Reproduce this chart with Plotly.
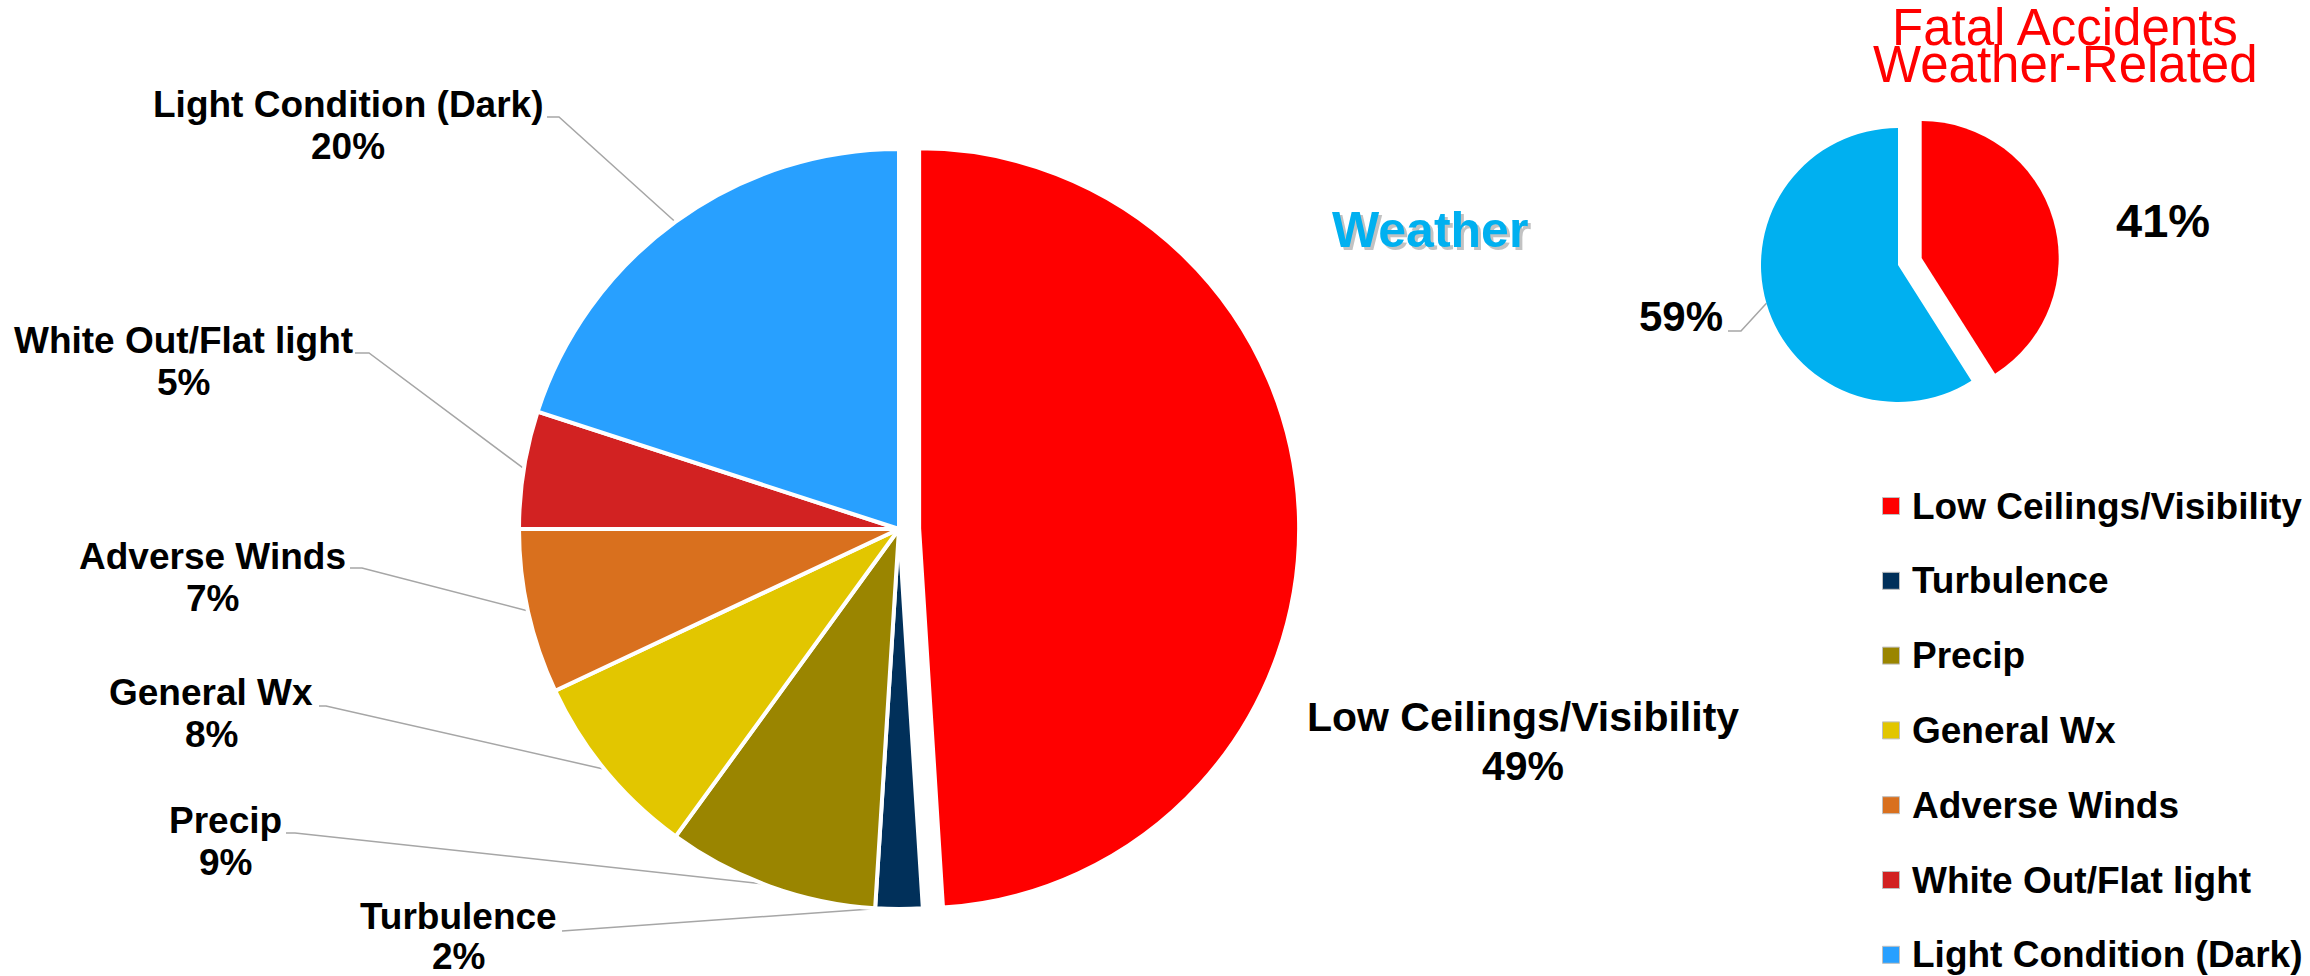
import math
import plotly.graph_objects as go

# ---------------- data ----------------
categories = ["Low Ceilings/Visibility", "Turbulence", "Precip", "General Wx",
              "Adverse Winds", "White Out/Flat light", "Light Condition (Dark)"]
shares = [49, 2, 9, 8, 7, 5, 20]

fatal_categories = ["Weather-Related", "Not Weather-Related"]
fatal_shares = [41, 59]

# ---------------- styles / layout ----------------
colors = ["#FF0000", "#01305A", "#9A8500", "#E2C600", "#D9701E", "#D22222", "#28A0FF"]
pulls = [0.053, 0, 0, 0, 0, 0, 0]
fatal_colors = ["#FF0000", "#00B0F0"]
fatal_pulls = [0.18, 0]

W, H = 2310, 976
MAIN_CX, MAIN_CY, MAIN_R = 899, 529, 380
SMALL_CX, SMALL_CY, SMALL_R = 1898, 265, 137
FONT = "Liberation Sans, Arial, sans-serif"
LEADER = "#A6A6A6"


def domain(cx, cy, r, maxpull):
    half = r * (1 + maxpull)
    return dict(x=[(cx - half) / W, (cx + half) / W],
                y=[(H - cy - half) / H, (H - cy + half) / H])


fig = go.Figure()

fig.add_trace(go.Pie(
    labels=categories, values=shares, sort=False, direction="clockwise", rotation=0,
    pull=pulls, marker=dict(colors=colors, line=dict(color="white", width=4)),
    textinfo="none", hoverinfo="label+percent", showlegend=False,
    domain=domain(MAIN_CX, MAIN_CY, MAIN_R, max(pulls)),
))

fig.add_trace(go.Pie(
    labels=fatal_categories, values=fatal_shares, sort=False, direction="clockwise", rotation=0,
    pull=fatal_pulls, marker=dict(colors=fatal_colors, line=dict(width=0)),
    textinfo="none", hoverinfo="label+percent", showlegend=False,
    domain=domain(SMALL_CX, SMALL_CY, SMALL_R, max(fatal_pulls)),
))


def mid_edge(values, idx, cx, cy, r):
    tot = sum(values)
    start = sum(values[:idx]) / tot
    mid = (start + values[idx] / tot / 2) * 2 * math.pi
    return cx + r * math.sin(mid), cy - r * math.cos(mid)


# label placement (layout positions) for main pie: center x, cap-middle y of name line
label_x = [1523, 458, 225, 211, 212, 183, 348]
label_y = [717, 916, 820, 692, 556, 340, 104]
label_size = [41, 37, 37, 37, 37, 37, 37]
line_gap = [49, 40, 42, 42, 42, 42, 42]
# leader line stubs (text side): x0, x1, y ; None = no leader
stub_x0 = [None, 562, 286, 319, 350, 355, 547]
stub_x1 = [None, 562, 295, 326, 362, 369, 559]
stub_y = [None, 931, 833, 706, 568, 353, 117]

annotations = []
lx, ly = [], []
for i, name in enumerate(categories):
    f = dict(family=FONT, size=label_size[i], color="black", weight=700)
    annotations.append(dict(x=label_x[i], y=label_y[i], text=name, showarrow=False,
                            xref="x", yref="y", xanchor="center", yanchor="middle", font=f))
    annotations.append(dict(x=label_x[i], y=label_y[i] + line_gap[i], text=f"{shares[i]}%",
                            showarrow=False, xref="x", yref="y", xanchor="center",
                            yanchor="middle", font=f))
    if stub_x0[i] is not None:
        ex, ey = mid_edge(shares, i, MAIN_CX, MAIN_CY, MAIN_R - 2)
        lx += [stub_x0[i], stub_x1[i], ex, None]
        ly += [stub_y[i], stub_y[i], ey, None]

# small pie labels
annotations.append(dict(x=2163, y=220, text=f"{fatal_shares[0]}%", showarrow=False,
                        xref="x", yref="y", xanchor="center", yanchor="middle",
                        font=dict(family=FONT, size=47, color="black", weight=700)))
annotations.append(dict(x=1681, y=316, text=f"{fatal_shares[1]}%", showarrow=False,
                        xref="x", yref="y", xanchor="center", yanchor="middle",
                        font=dict(family=FONT, size=42, color="black", weight=700)))
ex, ey = mid_edge(fatal_shares, 1, SMALL_CX, SMALL_CY, SMALL_R)
lx += [1728, 1741, ex, None]
ly += [331, 331, ey, None]

fig.add_trace(go.Scatter(x=lx, y=ly, mode="lines", line=dict(color=LEADER, width=1.5),
                         hoverinfo="skip", showlegend=False))

# titles
for txt, yy in [("Fatal Accidents", 27), ("Weather-Related", 64)]:
    annotations.append(dict(x=2065, y=yy, text=txt, showarrow=False, xref="x", yref="y",
                            xanchor="center", yanchor="middle",
                            font=dict(family=FONT, size=51, color="#FF0000")))
annotations.append(dict(x=1433, y=233, text="Weather", showarrow=False, xref="x", yref="y",
                        xanchor="center", yanchor="middle",
                        font=dict(family=FONT, size=50, color="rgba(120,120,120,0.45)", weight=700)))
annotations.append(dict(x=1430, y=230, text="Weather", showarrow=False, xref="x", yref="y",
                        xanchor="center", yanchor="middle",
                        font=dict(family=FONT, size=50, color="#00B0F0", weight=700)))

# manual legend
LEG_X_TEXT, LEG_X_MARK, LEG_Y0, LEG_DY, MARK = 1910, 1891, 506, 74.8, 17
shapes = []
for i, name in enumerate(categories):
    yy = LEG_Y0 + i * LEG_DY
    shapes.append(dict(type="rect", xref="x", yref="y",
                       x0=LEG_X_MARK - MARK / 2, x1=LEG_X_MARK + MARK / 2,
                       y0=yy - MARK / 2, y1=yy + MARK / 2,
                       fillcolor=colors[i], line=dict(color="#BFBFBF", width=1)))
    annotations.append(dict(x=LEG_X_TEXT, y=yy, text=name, showarrow=False, xref="x", yref="y",
                            xanchor="left", yanchor="middle",
                            font=dict(family=FONT, size=37, color="black", weight=700)))

fig.update_layout(
    width=W, height=H, margin=dict(l=0, r=0, t=0, b=0),
    paper_bgcolor="white", plot_bgcolor="rgba(0,0,0,0)",
    xaxis=dict(range=[0, W], visible=False, fixedrange=True, domain=[0, 1]),
    yaxis=dict(range=[H, 0], visible=False, fixedrange=True, domain=[0, 1]),
    annotations=annotations, shapes=shapes, showlegend=False,
)

fig.write_html("out.html", include_plotlyjs=True, config={"displayModeBar": False},
               post_script="document.body.style.margin='0';document.body.style.overflow='hidden';")
